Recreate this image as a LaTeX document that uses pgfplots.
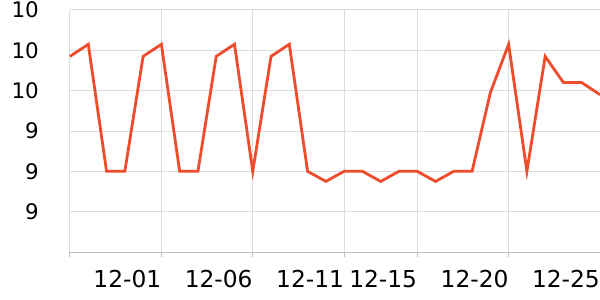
\documentclass[border=0pt]{standalone}
\usepackage{fontspec}
\setmainfont{DejaVu Sans}
\usepackage{pgfplots}
\pgfplotsset{compat=1.18}
\definecolor{lineC}{RGB}{238,76,44}
\definecolor{gridC}{RGB}{220,220,220}
\definecolor{axC}{RGB}{190,190,190}
\begin{document}
\begin{tikzpicture}
\begin{axis}[
  name=ax,
  scale only axis,
  width=530bp, height=242bp,
  xmin=0, xmax=29, ymin=9.2, ymax=10.4,
  axis x line*=bottom, axis y line*=left,
  x axis line style={draw=axC, line width=1bp, -},
  y axis line style={draw=gridC, line width=1bp, -},
  xtick={0,5,10,15,19,24,29},
  xticklabels={,12-01,12-06,12-11,12-15,12-20,12-25},
  ytick={9.4,9.6,9.8,10.0,10.2,10.4},
  yticklabels={9,9,9,10,10,10},
  xmajorgrids, ymajorgrids,
  grid style={draw=gridC, line width=1bp},
  tick align=outside,
  x tick style={draw=axC, line width=1bp},
  xtick style={draw=axC},
  major tick length=5bp,
  y tick style={draw=none},
  tick label style={text=black},
  x tick label style={font=\fontsize{23.4}{23.4}\selectfont, anchor=north east, inner sep=0pt, yshift=-13bp, xshift=0bp},
  y tick label style={font=\fontsize{21.5}{21.5}\selectfont, anchor=east, inner sep=0pt, xshift=-26bp},
  /pgf/number format/assume math mode=true,
  clip=false,
]
\addplot[color=lineC, line width=2.8bp, mark=none] coordinates {
(0,10.17) (1,10.23) (2,9.60) (3,9.60) (4,10.17) (5,10.23) (6,9.60) (7,9.60)
(8,10.17) (9,10.23) (10,9.60) (11,10.17) (12,10.23) (13,9.60) (14,9.55)
(15,9.60) (16,9.60) (17,9.55) (18,9.60) (19,9.60) (20,9.55) (21,9.60)
(22,9.60) (23,9.99) (24,10.23) (25,9.60) (26,10.17) (27,10.04) (28,10.04) (29,9.98)
};
\end{axis}
\pgfresetboundingbox
\useasboundingbox ([xshift=-70bp,yshift=-48bp]ax.south west) rectangle ([yshift=10bp]ax.north east);
\end{tikzpicture}
\end{document}
